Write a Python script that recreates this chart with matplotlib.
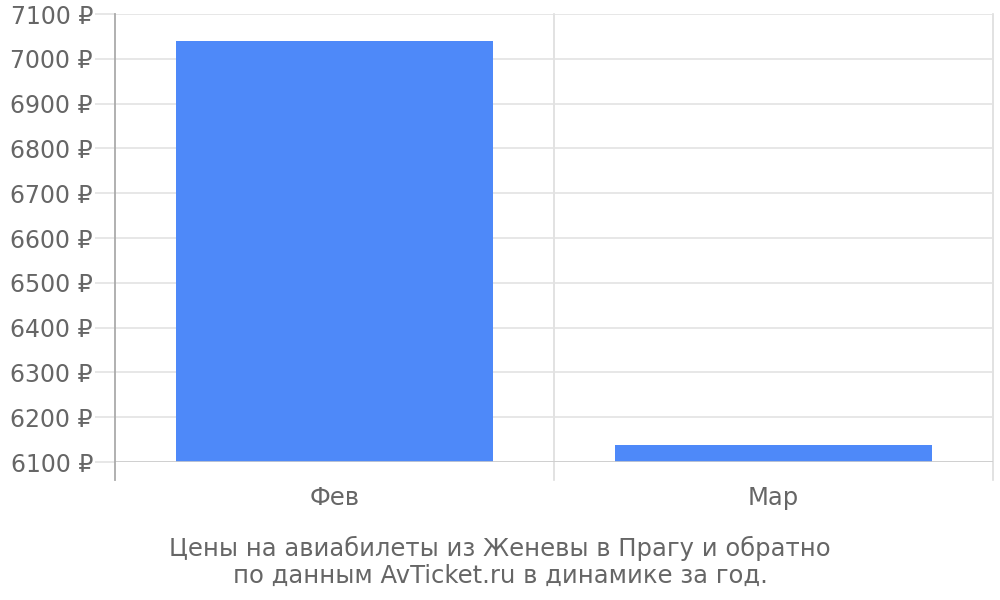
import matplotlib
matplotlib.use("Agg")
import matplotlib.pyplot as plt

categories = ["Фев", "Мар"]
values = [7040, 6137]
yticks = list(range(6100, 7101, 100))
ytick_labels = [f"{v} ₽" for v in yticks]
caption = "Цены на авиабилеты из Женевы в Прагу и обратно\nпо данным AvTicket.ru в динамике за год."

plt.rcParams['font.family'] = ['DejaVu Sans']
fig = plt.figure(figsize=(10, 6), dpi=100)
ax = fig.add_axes([0.115, 0.23, 0.878, 448/600])

x = list(range(len(categories)))
ax.bar(x, [v - 6100 for v in values], bottom=6100, width=0.72, color="#4e89f9", zorder=3)
ax.set_xlim(-0.5, len(categories) - 0.5)
ax.set_ylim(6100, 7100)
ax.set_yticks(yticks)
ax.set_yticklabels(ytick_labels)
ax.set_xticks(x)
ax.set_xticklabels(categories)

for s in ax.spines.values():
    s.set_visible(False)

ax.grid(axis='y', color="#e3e3e3", linewidth=1.2, zorder=0)
ax.axhline(6100, color="#cccccc", linewidth=1.2, zorder=4)
ext = -18/448
ax.axvline(-0.5, ymin=ext, ymax=1, color="#aaaaaa", linewidth=1.3, clip_on=False, zorder=5)
for xv in [0.5, 1.5]:
    ax.axvline(xv, ymin=ext, ymax=1, color="#dddddd", linewidth=1.2, clip_on=False, zorder=1)

ax.tick_params(axis='y', length=14.4, width=1.2, color="#e3e3e3", pad=1.5,
               labelsize=17, labelcolor="#666666")
ax.tick_params(axis='x', length=0, pad=17, labelsize=17.5, labelcolor="#666666")

fig.text(0.5, 1 - 562/600, caption, ha='center', va='center', fontsize=17.5,
         color="#666666", linespacing=1.15)

fig.savefig("out.png", dpi=100)
